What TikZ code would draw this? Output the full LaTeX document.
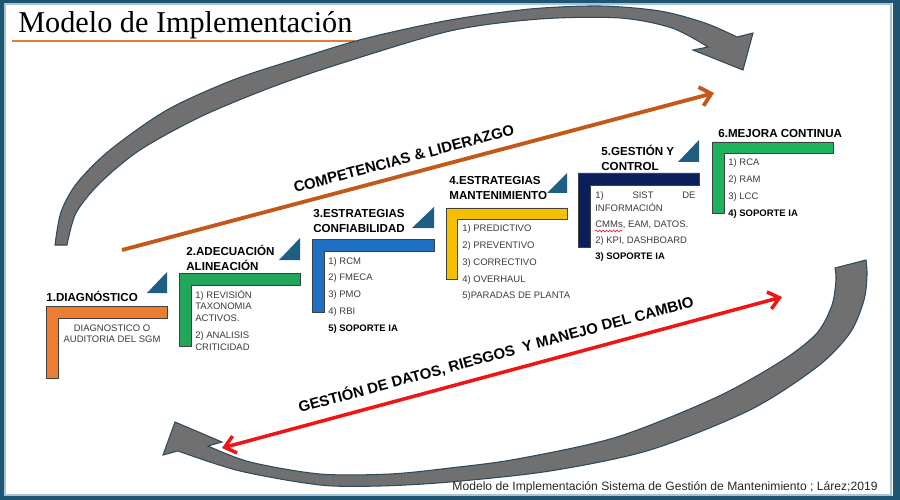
\documentclass[tikz,border=0pt]{standalone}
\usepackage{fontspec}
\setmainfont{Liberation Sans}
\newfontfamily\titlefont{Liberation Serif}
\usepackage{xcolor}
\usepackage{tikz}
\usetikzlibrary{positioning}
\usetikzlibrary{arrows.meta}
\usetikzlibrary{decorations.pathmorphing}

\definecolor{frameteal}{HTML}{1E5572}
\definecolor{framelight}{HTML}{A8C3D3}
\definecolor{titleorange}{HTML}{E07B39}
\definecolor{stepOrange}{HTML}{ED7D31}
\definecolor{stepGreen}{HTML}{21A65A}
\definecolor{stepBlue}{HTML}{1F6FC4}
\definecolor{stepYellow}{HTML}{F5C000}
\definecolor{stepNavy}{HTML}{0B1F5C}
\definecolor{stepGreenB}{HTML}{1DB25E}
\definecolor{triblue}{HTML}{1D5E82}
\definecolor{arcgray}{HTML}{707070}
\definecolor{arcedge}{HTML}{2E4A5C}
\definecolor{orangearrow}{HTML}{C4581A}
\definecolor{redarrow}{HTML}{F01414}
\definecolor{itemgray}{HTML}{3A3A3A}

\begin{document}
\begin{tikzpicture}[x=0.02cm,y=-0.02cm,
	lshape/.style={draw=black!75,line width=0.4pt},
	tri/.style={fill=triblue},
	head/.style={font=\fontsize{6.6}{8.3}\selectfont\bfseries,align=left,inner sep=0pt,anchor=south west},
	item/.style={font=\fontsize{5.4}{6.8}\selectfont,text=itemgray,inner sep=0pt,anchor=base west},
	bitem/.style={item,font=\fontsize{5.4}{6.8}\selectfont\bfseries,text=black},
	nextline/.style={below=#1,anchor=base west},
	garrow/.style={fill=arcgray,draw=arcedge,line width=0.6pt},
	band/.style={font=\fontsize{8.5}{10}\selectfont\bfseries,text=black,sloped,inner sep=0pt}]
	
	\useasboundingbox (0,0) rectangle (900,500);
	
	%frame
	\fill[frameteal,even odd rule] (0,0) rectangle (900,500) (4,3) rectangle (893,496);
	\draw[framelight,line width=0.6pt] (5,4) rectangle (891,495);
	
	%title
	\node[font=\titlefont\fontsize{17.2}{20}\selectfont,inner sep=0pt,anchor=base west] (title) at (18,33) {Modelo de Implementación};
	\draw[titleorange,line width=0.8pt] (12,41) -- (355,41);
	
	%cycle arrows
	\filldraw[garrow] plot[smooth] coordinates {(55,245) (61,212) (77,183) (110,150) (167,110) (233,80) (300,58) (367,38) (450,20) (530,9) (600,6) (660,11) (705,23) (737,37)}
		-- (753,33) -- (743,70) -- (693,50) -- (708,47)
		-- plot[smooth] coordinates {(708,47) (672,28) (620,18) (540,19) (450,31) (333,66) (267,89) (200,117) (140,150) (100,183) (76,213) (67,245)}
		-- cycle;
	\filldraw[garrow] plot[smooth] coordinates {(208,446) (250,462) (320,474) (390,474) (450,468) (517,459) (617,437) (717,397) (783,360) (817,333) (832,305) (836,280) (835,268)}
		-- (866,260)
		-- plot[smooth] coordinates {(866,260) (867,275) (864,300) (850,333) (817,367) (750,410) (650,450) (550,471) (450,482) (380,486) (320,485) (240,471) (178,451)}
		-- (163,455) -- (175,422) -- (222,442) -- cycle;
	
	%competencias
	\coordinate (cstart) at (122,250);
	\coordinate (cend) at (714,93);
	\draw[orangearrow,line width=2.2pt,-{Straight Barb[length=6pt,width=11pt]}] (cstart) -- (cend) node[band,pos=0.483,above=5pt] {COMPETENCIAS \& LIDERAZGO};
	
	%datos
	\coordinate (dstart) at (222,448);
	\coordinate (dend) at (782,297);
	\draw[redarrow,line width=2pt,{Straight Barb[length=6pt,width=10pt]}-{Straight Barb[length=6pt,width=10pt]}] (dstart) -- (dend) node[band,pos=0.498,above=5.5pt] {GESTIÓN DE DATOS, RIESGOS~ Y MANEJO DEL CAMBIO};
	
	%step 1
	\filldraw[lshape,fill=stepOrange] (46,306) -- (167,306) -- (167,318) -- (58,318) -- (58,378) -- (46,378) -- cycle;
	\fill[tri] (147,293) -- (167,272) -- (167,293) -- cycle;
	\node[head] (h1) at (46,302) {1.DIAGNÓSTICO};
	\node[item,anchor=base] (a1) at (112,331) {DIAGNOSTICO O};
	\node[item] (a2) [below=6.8pt of a1.base,anchor=base] {AUDITORIA DEL SGM};
	
	%step 2
	\filldraw[lshape,fill=stepGreen] (179,273) -- (300,273) -- (300,285) -- (191,285) -- (191,346) -- (179,346) -- cycle;
	\fill[tri] (279,260) -- (300,238) -- (300,260) -- cycle;
	\node[head] (h2) at (186,271) {2.ADECUACIÓN\\ALINEACIÓN};
	\node[item] (b1) at (195,298) {1) REVISIÓN};
	\node[item] (b2) [nextline=6.8pt of b1.base west] {TAXONOMIA};
	\node[item] (b3) [nextline=6.8pt of b2.base west] {ACTIVOS.};
	\node[item] (b4) [nextline=9.6pt of b3.base west] {2) ANALISIS};
	\node[item] (b5) [nextline=6.8pt of b4.base west] {CRITICIDAD};
	
	%step 3
	\filldraw[lshape,fill=stepBlue] (312,239) -- (434,239) -- (434,251) -- (324,251) -- (324,312) -- (312,312) -- cycle;
	\fill[tri] (412,228) -- (434,207) -- (434,228) -- cycle;
	\node[head] (h3) at (313,233) {3.ESTRATEGIAS\\CONFIABILIDAD};
	\node[item] (c1) at (328,264) {1) RCM};
	\node[item] (c2) [nextline=9.6pt of c1.base west] {2) FMECA};
	\node[item] (c3) [nextline=9.6pt of c2.base west] {3) PMO};
	\node[item] (c4) [nextline=9.6pt of c3.base west] {4) RBI};
	\node[bitem] (c5) [nextline=9.6pt of c4.base west] {5) SOPORTE IA};
	
	%step 4
	\filldraw[lshape,fill=stepYellow] (446,208) -- (567,208) -- (567,219) -- (457,219) -- (457,279) -- (446,279) -- cycle;
	\fill[tri] (547,193) -- (567,173) -- (567,193) -- cycle;
	\node[head] (h4) at (449,200) {4.ESTRATEGIAS\\MANTENIMIENTO};
	\node[item] (m1) at (462,232) {1) PREDICTIVO};
	\node[item] (m2) [nextline=9.5pt of m1.base west] {2) PREVENTIVO};
	\node[item] (m3) [nextline=9.5pt of m2.base west] {3) CORRECTIVO};
	\node[item] (m4) [nextline=9.5pt of m3.base west] {4) OVERHAUL};
	\node[item] (m5) [nextline=9.5pt of m4.base west] {5)PARADAS DE PLANTA};
	
	%step 5
	\filldraw[lshape,fill=stepNavy] (578,173) -- (699,173) -- (699,185) -- (590,185) -- (590,247) -- (578,247) -- cycle;
	\fill[tri] (678,162) -- (699,140) -- (699,162) -- cycle;
	\node[head] (h5) at (601,171) {5.GESTIÓN Y\\CONTROL};
	\node[item] (g1) at (595,198) {\hbox to 57pt{1)\hfill SIST\hfill DE}};
	\node[item] (g2) [nextline=7.9pt of g1.base west] {INFORMACIÓN};
	\node[item] (g3) [nextline=9.1pt of g2.base west] {CMMs, EAM, DATOS.};
	\node[item] (g4) [nextline=9.1pt of g3.base west] {2) KPI, DASHBOARD};
	\node[bitem] (g5) [nextline=9.1pt of g4.base west] {3) SOPORTE IA};
	\draw[red,line width=0.3pt,decorate,decoration={snake,amplitude=0.5pt,segment length=2pt}] (595,231) -- (622,231);
	
	%step 6
	\filldraw[lshape,fill=stepGreenB] (712,142) -- (833,142) -- (833,153) -- (724,153) -- (724,213) -- (712,213) -- cycle;
	\node[head] (h6) at (718,138) {6.MEJORA CONTINUA};
	\node[item] (r1) at (728,166) {1) RCA};
	\node[item] (r2) [nextline=9.5pt of r1.base west] {2) RAM};
	\node[item] (r3) [nextline=9.5pt of r2.base west] {3) LCC};
	\node[bitem] (r4) [nextline=9.5pt of r3.base west] {4) SOPORTE IA};
	
	%source
	\node[font=\fontsize{6.9}{8}\selectfont,text=black!85,inner sep=0pt,anchor=base east] (source) at (878,490) {Modelo de Implementación Sistema de Gestión de Mantenimiento ; Lárez;2019};
	
\end{tikzpicture}
\end{document}
